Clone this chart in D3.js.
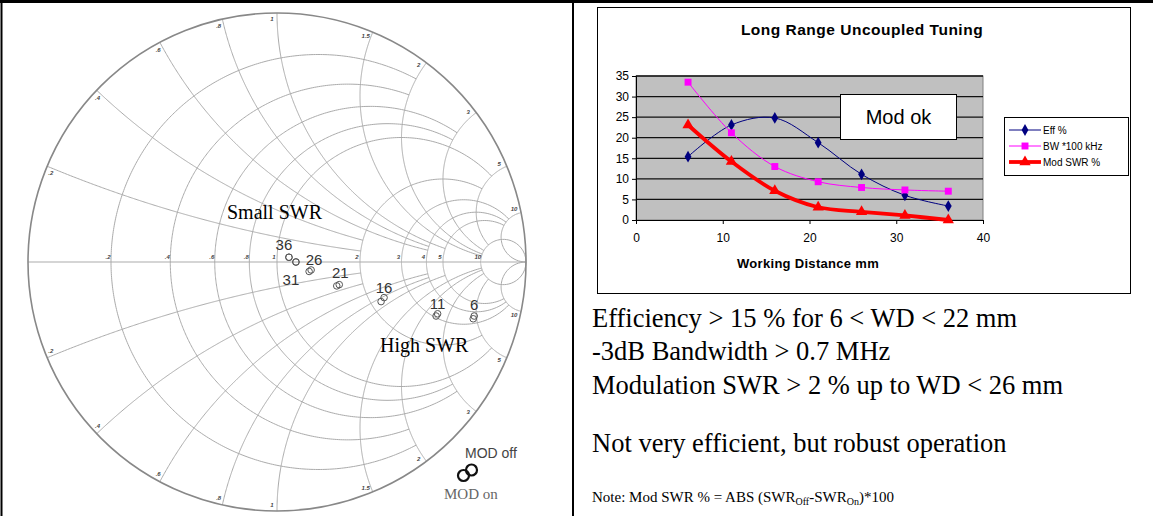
<!DOCTYPE html>
<html lang="en">
  <head>
    <meta charset="utf-8">
    <title>Long Range Uncoupled Tuning</title>
    <script src="https://d3js.org/d3.v7.min.js"></script>
    <style>
      body { margin: 0; background: white; }
      svg { display: block; }
      .serif { font-family: "Times New Roman", "Liberation Serif", serif; }
      .sans { font-family: Arial, "Liberation Sans", sans-serif; }
    </style>
  </head>
  <body>
    <script>
      // working distances (mm)
      const wd = [6, 11, 16, 21, 26, 31, 36];
      // excel chart series
      const effPct = [15.4, 23.1, 24.8, 18.8, 11.1, 6.0, 3.4];
      const bwPer100kHz = [33.5, 21.2, 13.0, 9.3, 7.9, 7.3, 7.0];
      const modSwrPct = [23.1, 14.2, 7.1, 3.1, 2.0, 1.1, 0.0];
      const seriesNames = ["Eff %", "BW *100 kHz", "Mod SWR %"];
      const xTicks = [0, 10, 20, 30, 40];
      const yTicks = [0, 5, 10, 15, 20, 25, 30, 35];

      // reflection coefficient of each WD on the smith chart, MOD off / MOD on
      const gOffRe = [0.792, 0.645, 0.430, 0.250, 0.137, 0.076, 0.048];
      const gOffIm = [-0.217, -0.208, -0.143, -0.091, -0.032, 0.0, 0.019];
      const gOnRe = [0.788, 0.639, 0.418, 0.240, 0.129, 0.076, 0.048];
      const gOnIm = [-0.228, -0.217, -0.159, -0.096, -0.038, 0.0, 0.019];

      // smith chart grid: resistance circles / reactance arcs and where they stop
      const rValues = [0.2, 0.4, 0.6, 0.8, 1, 2, 3, 4, 5, 10];
      const rStopAtX = [2, 2, 3, 3, 5, 5, 10, 10, 10, Infinity];
      const xValues = [0.2, 0.4, 0.6, 0.8, 1, 1.5, 2, 3, 5, 10];
      const xStopAtR = [2, 2, 4, 4, 5, 10, 10, 10, 10, Infinity];
      const rLabels = [".2", ".4", ".6", ".8", "1", "2", "3", "4", "5", "10"];
      const xLabels = [".2", ".4", ".6", ".8", "1", "1.5", "2", "3", "5", "10"];

      const width = 1153, height = 516;
      const svg = d3.select("body").append("svg")
                    .attr("width", width)
                    .attr("height", height);

      // page frame
      svg.append("line").attr("x1", 0).attr("x2", width).attr("y1", 1.5).attr("y2", 1.5)
         .attr("stroke", "black").attr("stroke-width", 3);
      svg.append("line").attr("x1", 1.5).attr("x2", 1.5).attr("y1", 0).attr("y2", height)
         .attr("stroke", "black").attr("stroke-width", 2);
      svg.append("line").attr("x1", 573).attr("x2", 573).attr("y1", 0).attr("y2", height)
         .attr("stroke", "black").attr("stroke-width", 2);

      // ---------- smith chart ----------
      const cx = 277, cy = 262, R = 249;
      const gx = d3.scaleLinear().domain([-1, 1]).range([cx - R, cx + R]);
      const gy = d3.scaleLinear().domain([-1, 1]).range([cy + R, cy - R]);
      const gamma = (r, x) => {
        const den = (r + 1) * (r + 1) + x * x;
        return [(r * r + x * x - 1) / den, (2 * x) / den];
      };
      const gLine = d3.line().x(d => gx(d[0])).y(d => gy(d[1]));
      const smith = svg.append("g");
      const gridColor = "#ababab";

      rValues.forEach((r, i) => {
        const tMax = Math.min(Math.atan(rStopAtX[i]), Math.PI / 2 - 1e-4);
        const pts = d3.range(0, 401).map(k => gamma(r, Math.tan(-tMax + 2 * tMax * k / 400)));
        smith.append("path").attr("d", gLine(pts))
             .attr("fill", "none").attr("stroke", gridColor).attr("stroke-width", 1);
      });
      xValues.forEach((xv, i) => {
        const tMax = Math.min(Math.atan(xStopAtR[i]), Math.PI / 2 - 1e-4);
        [1, -1].forEach(s => {
          const pts = d3.range(0, 301).map(k => gamma(Math.tan(tMax * k / 300), s * xv));
          smith.append("path").attr("d", gLine(pts))
               .attr("fill", "none").attr("stroke", gridColor).attr("stroke-width", 1);
        });
      });
      smith.append("line").attr("x1", gx(-1)).attr("x2", gx(1)).attr("y1", gy(0)).attr("y2", gy(0))
           .attr("stroke", gridColor).attr("stroke-width", 1);
      smith.append("circle").attr("cx", gx(0)).attr("cy", gy(0)).attr("r", gx(1) - gx(0))
           .attr("fill", "none").attr("stroke", "#888").attr("stroke-width", 1.6);

      // grid labels
      rValues.forEach((r, i) => {
        const g = gamma(r, 0);
        smith.append("text").attr("class", "sans")
             .attr("x", gx(g[0]) - 3).attr("y", gy(0) - 3)
             .attr("text-anchor", "middle").attr("font-size", 6).attr("font-style", "italic")
             .attr("font-weight", "bold").attr("fill", "#444").text(rLabels[i]);
      });
      xValues.forEach((xv, i) => {
        const a = Math.PI - 2 * Math.atan(xv) + 0.021;
        [1, -1].forEach(s => {
          smith.append("text").attr("class", "sans")
               .attr("x", cx + 243 * Math.cos(a)).attr("y", cy - s * 243 * Math.sin(a) + 2)
               .attr("text-anchor", "middle").attr("font-size", 6).attr("font-style", "italic")
               .attr("font-weight", "bold").attr("fill", "#444").text(xLabels[i]);
        });
      });

      // measured points
      const labelOffset = [[0, -6], [0, -5], [0, -5], [1, -7], [3, -5], [-5, 23], [-5, -7]];
      wd.forEach((w, i) => {
        [[gOnRe[i], gOnIm[i]], [gOffRe[i], gOffIm[i]]].forEach(p => {
          smith.append("circle").attr("cx", gx(p[0])).attr("cy", gy(p[1])).attr("r", 3.3)
               .attr("fill", "none").attr("stroke", "#555").attr("stroke-width", 1);
        });
        smith.append("text").attr("class", "sans")
             .attr("x", gx(gOffRe[i]) + labelOffset[i][0])
             .attr("y", gy(gOffIm[i]) + labelOffset[i][1])
             .attr("text-anchor", "middle").attr("font-size", 15).attr("fill", "#333")
             .text(w);
      });

      smith.append("text").attr("class", "serif").attr("x", 227).attr("y", 219)
           .attr("font-size", 20).text("Small SWR");
      smith.append("text").attr("class", "serif").attr("x", 380).attr("y", 352)
           .attr("font-size", 20).text("High SWR");

      // MOD off / on key
      smith.append("text").attr("class", "sans").attr("x", 465).attr("y", 458)
           .attr("font-size", 14).attr("fill", "#444").text("MOD off");
      smith.append("circle").attr("cx", 471.5).attr("cy", 470).attr("r", 5.5)
           .attr("fill", "none").attr("stroke", "#111").attr("stroke-width", 2.2);
      smith.append("circle").attr("cx", 463.5).attr("cy", 475.5).attr("r", 5.5)
           .attr("fill", "none").attr("stroke", "#111").attr("stroke-width", 2.2);
      smith.append("text").attr("class", "serif").attr("x", 444).attr("y", 499)
           .attr("font-size", 15).attr("fill", "#666").text("MOD on");

      // ---------- excel chart ----------
      const chart = svg.append("g").attr("class", "sans");
      chart.append("rect").attr("x", 597.5).attr("y", 7.5).attr("width", 533).attr("height", 286)
           .attr("fill", "white").attr("stroke", "black").attr("stroke-width", 1);

      const x = d3.scaleLinear().domain([0, 40]).range([636, 983]);
      const y = d3.scaleLinear().domain([0, 35]).range([220, 76]);

      chart.append("rect").attr("x", x(0)).attr("y", y(35))
           .attr("width", x(40) - x(0)).attr("height", y(0) - y(35))
           .attr("fill", "#c0c0c0").attr("stroke", "#808080");
      chart.selectAll(".grid").data(yTicks.slice(1)).enter().append("line")
           .attr("x1", x(0)).attr("x2", x(40))
           .attr("y1", d => y(d)).attr("y2", d => y(d))
           .attr("stroke", "#111").attr("stroke-width", 1.3);

      const yAxis = chart.append("g").attr("transform", `translate(${x(0)},0)`)
                         .call(d3.axisLeft(y).tickValues(yTicks).tickSize(4).tickPadding(3));
      const xAxis = chart.append("g").attr("transform", `translate(0,${y(0)})`)
                         .call(d3.axisBottom(x).tickValues(xTicks).tickSize(4).tickPadding(9));
      [yAxis, xAxis].forEach(a => {
        a.selectAll("path,line").attr("stroke", "black");
        a.selectAll("text").attr("font-size", 12).attr("font-family", "Arial, 'Liberation Sans', sans-serif")
         .attr("fill", "black");
      });

      chart.append("text").attr("x", 862).attr("y", 35).attr("text-anchor", "middle")
           .attr("font-size", 15.5).attr("font-weight", "bold").attr("letter-spacing", 0.5)
           .text("Long Range Uncoupled Tuning");
      chart.append("text").attr("x", 808).attr("y", 268).attr("text-anchor", "middle")
           .attr("font-size", 13).attr("font-weight", "bold").attr("letter-spacing", 0.3)
           .text("Working Distance mm");

      const series = [
        { values: effPct, color: "#000080", width: 1, symbol: d3.symbolDiamond, size: 40 },
        { values: bwPer100kHz, color: "#ff00ff", width: 1, symbol: d3.symbolSquare, size: 48 },
        { values: modSwrPct, color: "#ff0000", width: 3.8, symbol: d3.symbolTriangle, size: 55 }
      ];
      const line = d3.line().x(d => x(d[0])).y(d => y(d[1])).curve(d3.curveCatmullRom.alpha(0.5));
      series.forEach(s => {
        const pts = wd.map((w, i) => [w, s.values[i]]);
        chart.append("path").attr("d", line(pts)).attr("fill", "none")
             .attr("stroke", s.color).attr("stroke-width", s.width);
        chart.selectAll(null).data(pts).enter().append("path")
             .attr("d", d3.symbol().type(s.symbol).size(s.size))
             .attr("transform", d => `translate(${x(d[0])},${y(d[1])})`)
             .attr("fill", s.color);
      });

      // "Mod ok" box
      chart.append("rect").attr("x", 840.5).attr("y", 94.5).attr("width", 116).attr("height", 45)
           .attr("fill", "white").attr("stroke", "black");
      chart.append("text").attr("x", 898.5).attr("y", 123.5).attr("text-anchor", "middle")
           .attr("font-size", 20).text("Mod ok");

      // legend
      const legend = chart.append("g");
      legend.append("rect").attr("x", 1004.5).attr("y", 117.5).attr("width", 124).attr("height", 58)
            .attr("fill", "white").attr("stroke", "black");
      series.forEach((s, i) => {
        const ly = 130 + i * 16;
        legend.append("line").attr("x1", 1009).attr("x2", 1041).attr("y1", ly).attr("y2", ly)
              .attr("stroke", s.color).attr("stroke-width", s.width);
        legend.append("path").attr("d", d3.symbol().type(s.symbol).size(s.size))
              .attr("transform", `translate(1025,${ly})`).attr("fill", s.color);
        legend.append("text").attr("x", 1043).attr("y", ly + 3.5).attr("font-size", 10)
              .text(seriesNames[i]);
      });

      // ---------- notes ----------
      const notes = svg.append("g").attr("class", "serif");
      const lines = ["Efficiency > 15 % for 6 < WD < 22 mm",
                     "-3dB Bandwidth > 0.7 MHz",
                     "Modulation SWR > 2 % up to WD < 26 mm"];
      lines.forEach((t, i) => {
        notes.append("text").attr("x", 592).attr("y", 327 + i * 33.3).attr("font-size", 26.5).text(t);
      });
      notes.append("text").attr("x", 592).attr("y", 452).attr("font-size", 26.5)
           .text("Not very efficient, but robust operation");
      const note = notes.append("text").attr("x", 592).attr("y", 502).attr("font-size", 15);
      note.append("tspan").text("Note: Mod SWR % = ABS (SWR");
      note.append("tspan").attr("dy", 3).attr("font-size", 10).text("Off");
      note.append("tspan").attr("dy", -3).text("-SWR");
      note.append("tspan").attr("dy", 3).attr("font-size", 10).text("On");
      note.append("tspan").attr("dy", -3).text(")*100");
    </script>
  </body>
</html>
